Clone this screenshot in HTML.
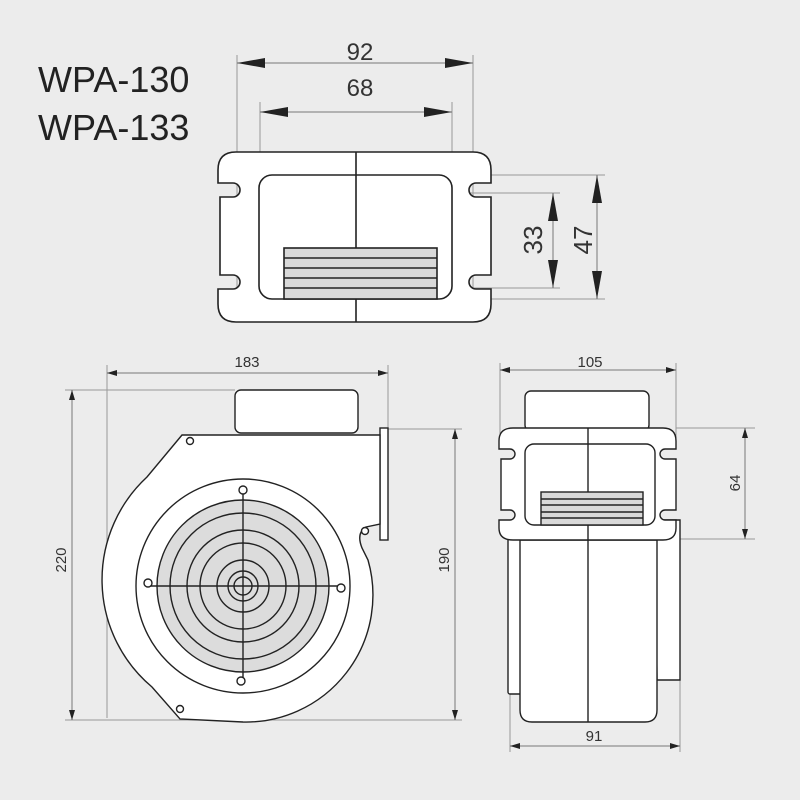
<!DOCTYPE html>
<html><head><meta charset="utf-8"><style>
html,body{margin:0;padding:0;background:#ececec;}
svg{display:block;font-family:"Liberation Sans",sans-serif;}
</style></head><body>
<svg width="800" height="800" viewBox="0 0 800 800" xmlns="http://www.w3.org/2000/svg">
<defs>
<marker id="a" viewBox="0 0 10 6" refX="10" refY="3" markerWidth="10" markerHeight="6" orient="auto-start-reverse" markerUnits="userSpaceOnUse"><path d="M0,0 L10,3 L0,6 z" fill="#222"/></marker>
<marker id="b" viewBox="0 0 28 10" refX="28" refY="5" markerWidth="28" markerHeight="10" orient="auto-start-reverse" markerUnits="userSpaceOnUse"><path d="M0,0 L28,5 L0,10 z" fill="#222"/></marker>
</defs>
<rect width="800" height="800" fill="#ececec"/>
<text x="38" y="92" font-size="36" fill="#222">WPA-130</text>
<text x="38" y="140" font-size="36" fill="#222">WPA-133</text>

<g stroke="#999" stroke-width="1" fill="none">
<line x1="237" y1="55" x2="237" y2="300"/><line x1="473" y1="55" x2="473" y2="300"/>
<line x1="260" y1="102" x2="260" y2="300"/><line x1="452" y1="102" x2="452" y2="300"/>
<line x1="470" y1="175" x2="605" y2="175"/><line x1="470" y1="299" x2="605" y2="299"/>
<line x1="470" y1="193" x2="560" y2="193"/><line x1="470" y1="288" x2="560" y2="288"/>
</g>
<g stroke="#777" stroke-width="1">
<line x1="237" y1="63" x2="473" y2="63" marker-start="url(#b)" marker-end="url(#b)"/>
<line x1="260" y1="112" x2="452" y2="112" marker-start="url(#b)" marker-end="url(#b)"/>
<line x1="553" y1="193" x2="553" y2="288" marker-start="url(#b)" marker-end="url(#b)"/>
<line x1="597" y1="175" x2="597" y2="299" marker-start="url(#b)" marker-end="url(#b)"/>
</g>
<text x="360" y="60" font-size="24" text-anchor="middle" fill="#333">92</text>
<text x="360" y="96" font-size="24" text-anchor="middle" fill="#333">68</text>
<text transform="translate(542,240) rotate(-90)" font-size="26" text-anchor="middle" fill="#333">33</text>
<text transform="translate(592,240) rotate(-90)" font-size="26" text-anchor="middle" fill="#333">47</text>

<g stroke="#222" stroke-width="1.6" fill="#fff">
<path d="M236,152 L473,152 Q491,152 491,170 L491,183 L476,183 A7,7 0 0 0 476,197 L491,197 L491,275 L476,275 A7,7 0 0 0 476,289 L491,289 L491,304 Q491,322 473,322 L236,322 Q218,322 218,304 L218,289 L233,289 A7,7 0 0 0 233,275 L220,275 L220,197 L233,197 A7,7 0 0 0 233,183 L218,183 L218,170 Q218,152 236,152 Z"/>
<rect x="259" y="175" width="193" height="124" rx="13"/>
<rect x="284" y="248" width="153" height="51" fill="#d9d9d9"/>
<g fill="none"><line x1="284" y1="258" x2="437" y2="258"/><line x1="284" y1="268" x2="437" y2="268"/><line x1="284" y1="278" x2="437" y2="278"/><line x1="284" y1="288" x2="437" y2="288"/>
<line x1="356" y1="152" x2="356" y2="248"/><line x1="356" y1="299" x2="356" y2="322"/></g>
</g>

<g stroke="#999" stroke-width="1" fill="none">
<line x1="107" y1="365" x2="107" y2="718"/><line x1="388" y1="365" x2="388" y2="430"/>
<line x1="65" y1="390" x2="235" y2="390"/><line x1="65" y1="720" x2="462" y2="720"/>
<line x1="388" y1="429" x2="462" y2="429"/>
</g>
<g stroke="#777" stroke-width="1">
<line x1="107" y1="373" x2="388" y2="373" marker-start="url(#a)" marker-end="url(#a)"/>
<line x1="72" y1="390" x2="72" y2="720" marker-start="url(#a)" marker-end="url(#a)"/>
<line x1="455" y1="429" x2="455" y2="720" marker-start="url(#a)" marker-end="url(#a)"/>
</g>
<text x="247" y="367" font-size="15" text-anchor="middle" fill="#333">183</text>
<text transform="translate(66,560) rotate(-90)" font-size="15" text-anchor="middle" fill="#333">220</text>
<text transform="translate(449,560) rotate(-90)" font-size="15" text-anchor="middle" fill="#333">190</text>

<g stroke="#222" stroke-width="1.4" fill="#fff">
<rect x="235" y="390" width="123" height="43" rx="6"/>
<rect x="380" y="428" width="8" height="112"/>
<path d="M182,435 L380,435 L380,524 L366,527 Q356,533 362,548 L368,560 A127,127 0 0 1 243,722 L180,719 L152,687 A140,140 0 0 1 147,477 Z"/>
<circle cx="243" cy="586" r="107"/>
<circle cx="243" cy="586" r="86" fill="#dcdcdc"/>
<g fill="none"><circle cx="243" cy="586" r="73"/><circle cx="243" cy="586" r="56"/><circle cx="243" cy="586" r="43"/><circle cx="243" cy="586" r="26"/><circle cx="243" cy="586" r="15"/><circle cx="243" cy="586" r="9"/>
<line x1="150" y1="586" x2="338" y2="586"/><line x1="243" y1="493" x2="243" y2="678"/></g>
<circle cx="148" cy="583" r="4"/><circle cx="341" cy="588" r="4"/><circle cx="243" cy="490" r="4"/><circle cx="241" cy="681" r="4"/>
<circle cx="190" cy="441" r="3.5"/><circle cx="365" cy="531" r="3.5"/><circle cx="180" cy="709" r="3.5"/>
</g>

<g stroke="#999" stroke-width="1" fill="none">
<line x1="500" y1="363" x2="500" y2="440"/><line x1="676" y1="363" x2="676" y2="440"/>
<line x1="676" y1="428" x2="755" y2="428"/><line x1="676" y1="539" x2="755" y2="539"/>
<line x1="510" y1="690" x2="510" y2="752"/><line x1="680" y1="680" x2="680" y2="752"/>
</g>
<g stroke="#777" stroke-width="1">
<line x1="500" y1="370" x2="676" y2="370" marker-start="url(#a)" marker-end="url(#a)"/>
<line x1="745" y1="428" x2="745" y2="539" marker-start="url(#a)" marker-end="url(#a)"/>
<line x1="510" y1="746" x2="680" y2="746" marker-start="url(#a)" marker-end="url(#a)"/>
</g>
<text x="590" y="367" font-size="15" text-anchor="middle" fill="#333">105</text>
<text transform="translate(740,483) rotate(-90)" font-size="15" text-anchor="middle" fill="#333">64</text>
<text x="594" y="741" font-size="15" text-anchor="middle" fill="#333">91</text>

<g stroke="#222" stroke-width="1.4" fill="#fff">
<rect x="525" y="391" width="124" height="40" rx="6"/>
<rect x="508" y="538" width="14" height="156" rx="2"/>
<path d="M655,520 L680,520 L680,680 L657,680 Z"/>
<path d="M520,540 L657,540 L657,710 Q657,722 645,722 L532,722 Q520,722 520,710 Z"/>
<path d="M513,428 L663,428 Q676,428 676,441 L676,449 L665,449 A5,5 0 0 0 665,459 L676,459 L676,510 L665,510 A5,5 0 0 0 665,520 L676,520 L676,528 Q676,540 663,540 L513,540 Q499,540 499,528 L499,520 L510,520 A5,5 0 0 0 510,510 L501,510 L501,459 L510,459 A5,5 0 0 0 510,449 L499,449 L499,441 Q499,428 513,428 Z"/>
<rect x="525" y="444" width="130" height="81" rx="9"/>
<rect x="541" y="492" width="102" height="33" fill="#d9d9d9"/>
<g fill="none"><line x1="541" y1="499" x2="643" y2="499"/><line x1="541" y1="505" x2="643" y2="505"/><line x1="541" y1="512" x2="643" y2="512"/><line x1="541" y1="518" x2="643" y2="518"/>
<line x1="588" y1="428" x2="588" y2="492"/><line x1="588" y1="525" x2="588" y2="722"/></g>
</g>
</svg>
</body></html>
